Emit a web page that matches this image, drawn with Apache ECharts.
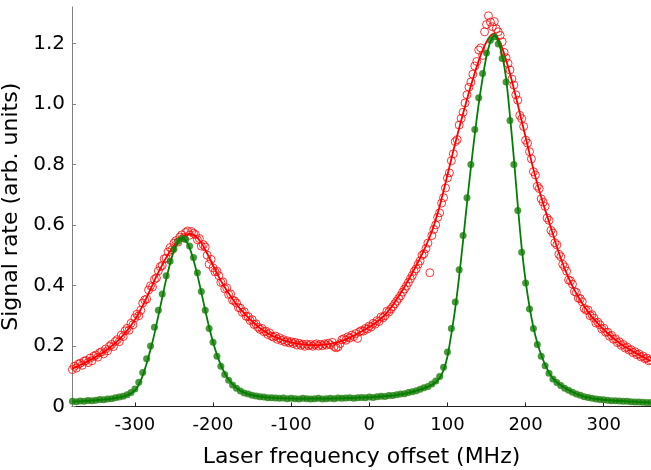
<!DOCTYPE html>
<html><head><meta charset="utf-8">
<script src="https://cdn.jsdelivr.net/npm/echarts@6/dist/echarts.min.js"></script>
<style>html,body{margin:0;padding:0;background:#fff}#c{width:651px;height:470px}</style>
</head><body><div id="c"></div><script>
// Tick values
const xTicks = [-300, -200, -100, 0, 100, 200, 300];
const yTicks = [0, 0.2, 0.4, 0.6, 0.8, 1.0, 1.2];

// Red (open circles) measured signal, laser offset grid -380..360 MHz, step 2.5 MHz
const RED_X0 = -380, RED_DX = 2.5;
const redData = [
0.122,0.133,0.127,0.140,0.143,0.136,0.150,0.152,0.145,0.160,
0.151,0.166,0.170,0.163,0.178,0.181,0.174,0.190,0.184,0.199,
0.205,0.198,0.215,0.221,0.214,0.236,0.231,0.250,0.258,0.252,
0.275,0.270,0.293,0.305,0.300,0.318,0.342,0.352,0.355,0.385,
0.399,0.395,0.420,0.425,0.448,0.462,0.466,0.488,0.490,0.511,
0.525,0.518,0.540,0.548,0.543,0.560,0.567,0.558,0.575,0.580,
0.566,0.578,0.572,0.568,0.551,0.555,0.530,0.535,0.527,0.500,
0.470,0.486,0.458,0.445,0.447,0.432,0.410,0.412,0.389,0.392,
0.370,0.372,0.351,0.349,0.342,0.327,0.325,0.311,0.313,0.298,
0.297,0.284,0.287,0.271,0.273,0.262,0.255,0.258,0.247,0.249,
0.238,0.243,0.232,0.229,0.233,0.222,0.227,0.218,0.221,0.213,
0.217,0.210,0.214,0.208,0.212,0.203,0.209,0.202,0.206,0.199,
0.206,0.201,0.205,0.199,0.204,0.207,0.200,0.205,0.201,0.207,
0.203,0.209,0.204,0.212,0.198,0.194,0.197,0.208,0.221,0.224,
0.219,0.230,0.226,0.236,0.231,0.241,0.225,0.247,0.251,0.249,
0.258,0.256,0.266,0.263,0.275,0.272,0.284,0.281,0.296,0.293,
0.300,0.315,0.312,0.322,0.330,0.339,0.348,0.357,0.366,0.378,
0.388,0.398,0.410,0.422,0.433,0.447,0.455,0.470,0.481,0.500,
0.505,0.522,0.540,0.442,0.565,0.585,0.600,0.625,0.640,0.672,
0.690,0.722,0.755,0.772,0.812,0.835,0.875,0.882,0.930,0.952,
0.972,1.003,1.030,1.055,1.072,1.098,1.125,1.140,1.178,1.185,
1.160,1.238,1.262,1.291,1.270,1.255,1.272,1.248,1.238,1.226,
1.205,1.170,1.152,1.134,1.112,1.082,1.062,1.030,1.012,0.962,
0.951,0.925,0.880,0.870,0.842,0.818,0.776,0.765,0.728,0.720,
0.686,0.675,0.661,0.623,0.615,0.582,0.573,0.541,0.534,0.503,
0.495,0.470,0.461,0.447,0.418,0.415,0.404,0.380,0.377,0.358,
0.356,0.346,0.324,0.318,0.319,0.300,0.303,0.292,0.276,0.279,
0.270,0.256,0.259,0.245,0.246,0.232,0.235,0.222,0.224,0.211,
0.214,0.202,0.205,0.193,0.196,0.186,0.188,0.178,0.181,0.171,
0.174,0.164,0.167,0.158,0.160,0.151,0.154
];

// Fit curves, grid -380..360 MHz, step 5 MHz
const FIT_X0 = -380, FIT_DX = 5;
const redFit = [
0.125,0.131,0.137,0.143,0.150,0.157,0.164,0.172,0.180,0.189,
0.199,0.210,0.222,0.236,0.251,0.268,0.287,0.309,0.333,0.360,
0.388,0.416,0.443,0.468,0.492,0.513,0.531,0.547,0.559,0.567,
0.570,0.567,0.557,0.540,0.518,0.493,0.466,0.440,0.416,0.394,
0.374,0.355,0.338,0.322,0.308,0.294,0.282,0.270,0.259,0.250,
0.242,0.235,0.229,0.224,0.219,0.215,0.212,0.209,0.207,0.205,
0.204,0.203,0.203,0.203,0.204,0.205,0.207,0.210,0.213,0.217,
0.222,0.228,0.234,0.241,0.248,0.255,0.263,0.271,0.280,0.291,
0.303,0.318,0.335,0.354,0.374,0.395,0.418,0.441,0.465,0.490,
0.517,0.546,0.578,0.617,0.662,0.712,0.765,0.818,0.870,0.920,
0.968,1.015,1.060,1.103,1.142,1.177,1.205,1.225,1.232,1.215,
1.185,1.145,1.100,1.050,0.998,0.944,0.890,0.836,0.784,0.736,
0.692,0.650,0.610,0.569,0.528,0.490,0.456,0.425,0.398,0.373,
0.351,0.331,0.313,0.296,0.281,0.267,0.254,0.242,0.231,0.220,
0.210,0.201,0.193,0.185,0.178,0.171,0.164,0.157,0.150
];
const greenFit = [
0.016,0.017,0.017,0.018,0.019,0.020,0.021,0.022,0.023,0.024,
0.026,0.028,0.030,0.033,0.037,0.043,0.053,0.072,0.102,0.142,
0.188,0.240,0.300,0.360,0.420,0.472,0.515,0.543,0.556,0.549,
0.524,0.484,0.434,0.377,0.318,0.262,0.213,0.171,0.137,0.110,
0.089,0.073,0.061,0.052,0.046,0.041,0.038,0.035,0.033,0.031,
0.030,0.029,0.028,0.028,0.027,0.027,0.027,0.026,0.026,0.026,
0.026,0.026,0.026,0.026,0.026,0.026,0.026,0.027,0.027,0.027,
0.028,0.028,0.028,0.029,0.029,0.030,0.030,0.031,0.032,0.033,
0.034,0.035,0.036,0.038,0.040,0.042,0.045,0.048,0.052,0.056,
0.060,0.065,0.071,0.080,0.094,0.120,0.165,0.240,0.325,0.430,
0.548,0.672,0.790,0.900,1.000,1.085,1.158,1.205,1.225,1.205,
1.160,1.085,0.960,0.820,0.665,0.525,0.415,0.330,0.262,0.210,
0.170,0.138,0.112,0.093,0.080,0.070,0.062,0.055,0.048,0.042,
0.037,0.033,0.030,0.027,0.025,0.024,0.022,0.021,0.020,0.019,
0.019,0.018,0.017,0.016,0.016,0.015,0.014,0.014,0.013
];

// Green (filled dots) measured signal, grid -380..360 MHz, step 5 MHz
const GREEN_X0 = -380, GREEN_DX = 5;
const greenData = [
0.017,0.016,0.018,0.017,0.020,0.019,0.021,0.023,0.022,0.025,
0.026,0.029,0.031,0.034,0.039,0.046,0.058,0.080,0.112,0.158,
0.200,0.262,0.318,0.372,0.432,0.480,0.520,0.545,0.556,0.552,
0.530,0.492,0.442,0.380,0.318,0.258,0.212,0.166,0.133,0.106,
0.087,0.071,0.060,0.051,0.045,0.041,0.037,0.035,0.032,0.031,
0.029,0.029,0.028,0.027,0.028,0.026,0.027,0.026,0.025,0.027,
0.026,0.025,0.026,0.027,0.025,0.026,0.027,0.026,0.028,0.027,
0.028,0.029,0.027,0.029,0.030,0.029,0.031,0.030,0.032,0.034,
0.033,0.036,0.036,0.039,0.041,0.042,0.046,0.049,0.052,0.057,
0.062,0.066,0.074,0.084,0.099,0.130,0.180,0.258,0.345,0.452,
0.565,0.690,0.800,0.915,1.020,1.100,1.168,1.210,1.222,1.198,
1.150,1.072,0.945,0.800,0.648,0.510,0.408,0.322,0.258,0.205,
0.166,0.135,0.110,0.091,0.079,0.069,0.060,0.054,0.047,0.041,
0.037,0.032,0.030,0.027,0.025,0.023,0.022,0.021,0.019,0.019,
0.018,0.017,0.017,0.016,0.015,0.015,0.014,0.013,0.013
];

function pairs(x0, dx, arr) { return arr.map((v, i) => [x0 + i * dx, v]); }

const FONT = 'DejaVu Sans';
const chart = echarts.init(document.getElementById('c'), null, {renderer: 'canvas'});
chart.setOption({
  animation: false,
  backgroundColor: '#ffffff',
  grid: {left: 72, right: 0, top: 7, bottom: 63.5, containLabel: false, outerBoundsMode: 'none'},
  xAxis: {
    type: 'value', min: -380.5, max: 360.5,
    axisLine: {show: true, onZero: false, lineStyle: {color: '#222', width: 1}},
    axisTick: {show: true, inside: true, length: 4, customValues: xTicks, lineStyle: {color: '#222'}},
    axisLabel: {customValues: xTicks, fontFamily: FONT, fontSize: 18, color: '#000', margin: 10},
    splitLine: {show: false},
    name: 'Laser frequency offset (MHz)', nameLocation: 'middle', nameGap: 40,
    nameTextStyle: {fontFamily: FONT, fontSize: 22, color: '#000'}
  },
  yAxis: {
    type: 'value', min: 0, max: 1.32,
    axisLine: {show: true, onZero: false, lineStyle: {color: '#808080', width: 1}},
    axisTick: {show: true, inside: true, length: 4, customValues: yTicks, lineStyle: {color: '#808080'}},
    axisLabel: {customValues: yTicks, fontFamily: FONT, fontSize: 20, color: '#000', margin: 7,
      formatter: v => (Math.abs(v) < 1e-9 ? '0' : Number(v).toFixed(1))},
    splitLine: {show: false},
    name: 'Signal rate (arb. units)', nameLocation: 'middle', nameGap: 40, nameRotate: 90,
    nameTextStyle: {fontFamily: FONT, fontSize: 22, color: '#000'}
  },
  series: [
    {type: 'line', data: pairs(FIT_X0, FIT_DX, redFit), showSymbol: false, smooth: 0.3,
     lineStyle: {color: '#ff0000', width: 1.8}, z: 2, silent: true},
    {type: 'scatter', data: pairs(RED_X0, RED_DX, redData), symbol: 'circle', symbolSize: 8,
     itemStyle: {color: 'rgba(255,255,255,0)', borderColor: '#ff0000', borderWidth: 1}, z: 3, silent: true},
    {type: 'scatter', data: pairs(GREEN_X0, GREEN_DX, greenData), symbol: 'circle', symbolSize: 7,
     itemStyle: {color: '#1e7d0c'}, z: 4, silent: true},
    {type: 'line', data: pairs(FIT_X0, FIT_DX, greenFit), showSymbol: false, smooth: 0.3,
     lineStyle: {color: '#008000', width: 1.8}, z: 5, silent: true}
  ]
});
</script></body></html>
